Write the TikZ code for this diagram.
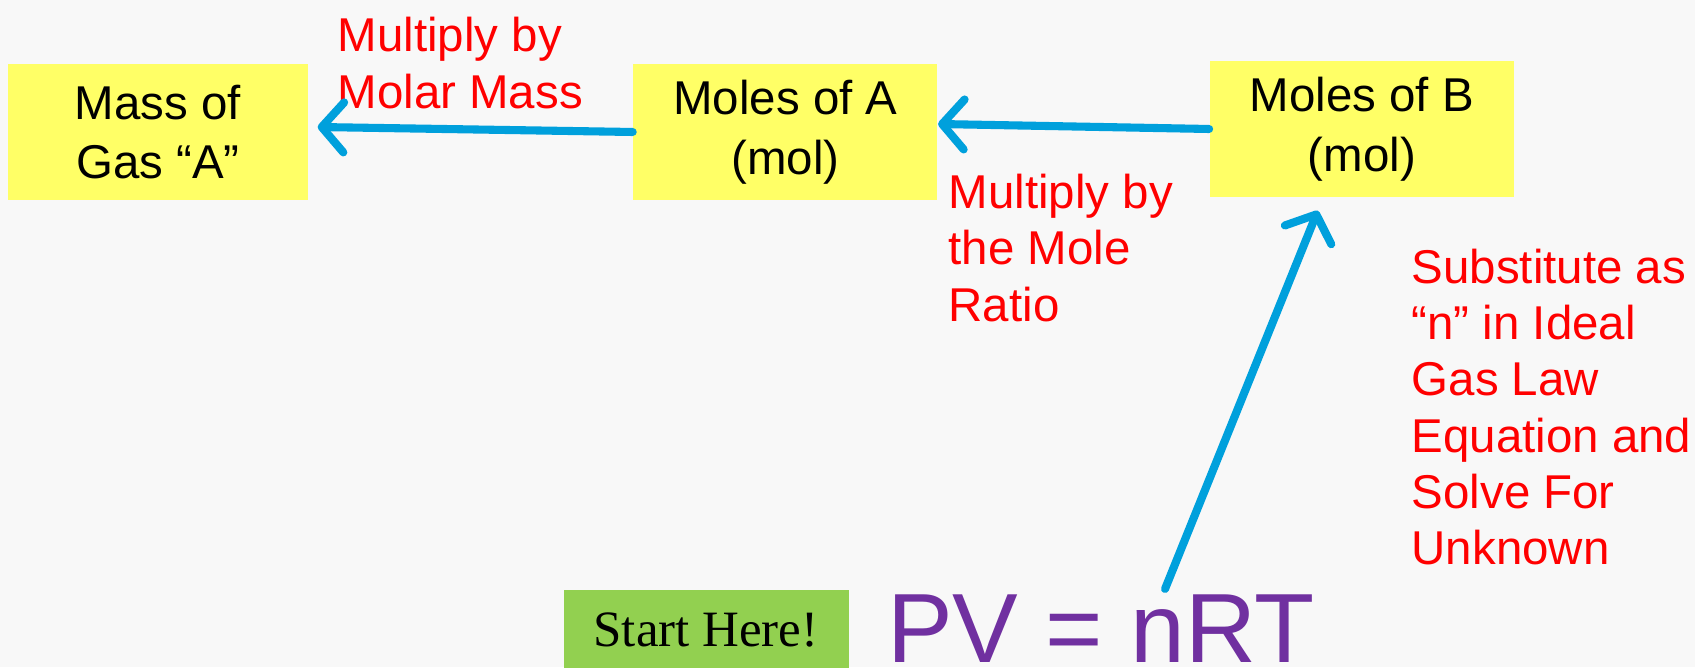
\documentclass[tikz,border=0pt]{standalone}
\usepackage{fontspec}
\setmainfont{Liberation Sans}
\newfontfamily\startfont{Liberation Serif}
\usetikzlibrary{arrows.meta, positioning, calc}

\definecolor{boxyellow}{RGB}{255,255,102}
\definecolor{startgreen}{RGB}{146,208,80}
\definecolor{arrowblue}{RGB}{0,160,220}
\definecolor{lawpurple}{RGB}{112,48,160}
\definecolor{slidebg}{RGB}{248,248,248}

\begin{document}
\begin{tikzpicture}[
    node distance=3cm,
    box/.style={
        rectangle,
        fill=boxyellow,
        minimum width=3.04cm,
        minimum height=1.36cm,
        align=center,
        font=\fontsize{13.5}{17}\selectfont
    },
    note/.style={
        text=red,
        align=left,
        inner sep=0pt,
        anchor=west,
        font=\fontsize{13.5}{16}\selectfont
    },
    flow/.style={
        -{Straight Barb[length=2.2mm, width=5mm, round]},
        line width=2.3pt,
        line cap=round,
        draw=arrowblue
    }
]
% === Background ===
\fill[slidebg] (0,0) rectangle (16.95,6.67);
\useasboundingbox (0,0) rectangle (16.95,6.67);

% === Quantities ===
\node[box, minimum width=3.0cm] (mass) at (1.58,5.35) {Mass of\\Gas “A”};
\node[box, right=3.24cm of mass] (molA) {Moles of A\\(mol)};
\node[box, right=2.71cm of molA, yshift=0.03cm] (molB) {Moles of B\\(mol)};

% === Start ===
\node[fill=startgreen, minimum width=2.85cm, minimum height=0.8cm, font=\startfont\fontsize{14.5}{16}\selectfont] (start) at (7.06,0.37) {Start Here!};
\node[text=lawpurple, font=\fontsize{28}{30}\selectfont, anchor=base] (pv) at (11.01,0.05) {PV = nRT};

% === Labels ===
\node[note] (lblMolar) at (3.37,6.04) {Multiply by\\Molar Mass};
\node[note] (lblRatio) at (9.48,4.19) {Multiply by\\the Mole\\Ratio};
\node[note] (lblSubst) at (14.11,2.60) {Substitute as\\“n” in Ideal\\Gas Law\\Equation and\\Solve For\\Unknown};

% === Arrows ===
\coordinate (nstart) at (11.65,0.78);
\draw[flow] (molA.west) -- ([xshift=0.09cm, yshift=0.05cm]mass.east);
\draw[flow] (molB.west) -- ([yshift=0.08cm]molA.east);
\draw[flow] (nstart) -- ([xshift=-0.44cm, yshift=-0.13cm]molB.south);
\end{tikzpicture}
\end{document}
